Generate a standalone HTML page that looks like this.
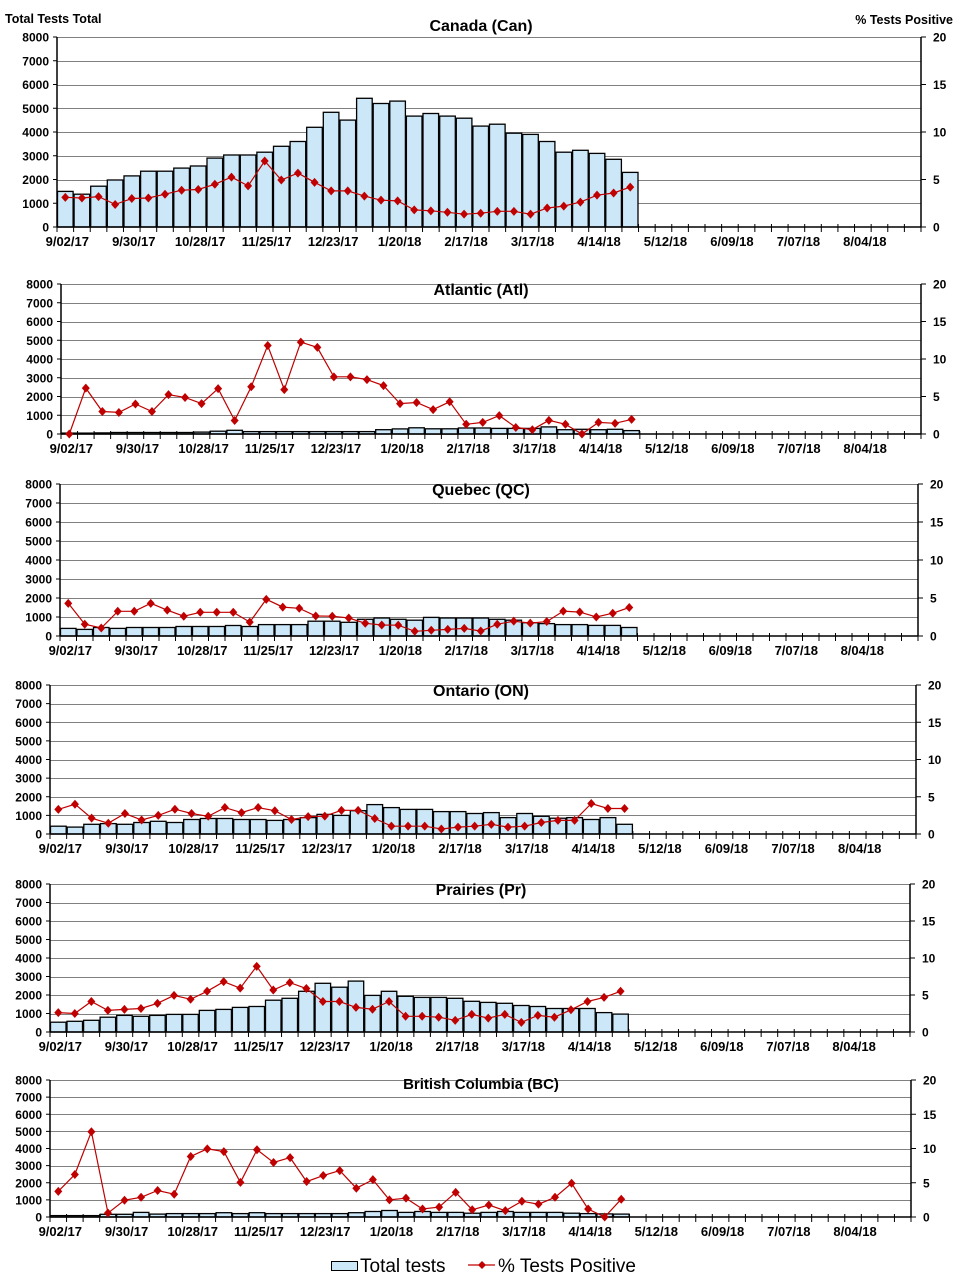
<!DOCTYPE html>
<html><head><meta charset="utf-8"><style>
html,body{margin:0;padding:0;background:#fff;}
svg{display:block;}
text{font-family:"Liberation Sans",Arial,sans-serif;fill:#000;}
.b{font-weight:bold;font-size:12px;}
.d{font-weight:bold;font-size:13px;}
.t{font-weight:bold;font-size:16px;text-anchor:middle;}
</style></head><body>
<svg id="s" width="962" height="1287" xmlns="http://www.w3.org/2000/svg">
<g id="geo"></g>
<text class="b" x="5" y="23" style="font-size:12.5px">Total Tests  Total</text>
<text class="b" x="953" y="24" text-anchor="end" style="font-size:12.5px">% Tests  Positive</text>
<g id="p0"><text class="t">Canada (Can)</text><text class="b">0</text><text class="b">1000</text><text class="b">2000</text><text class="b">3000</text><text class="b">4000</text><text class="b">5000</text><text class="b">6000</text><text class="b">7000</text><text class="b">8000</text><text class="b">0</text><text class="b">5</text><text class="b">10</text><text class="b">15</text><text class="b">20</text><text class="d">9/02/17</text><text class="d">9/30/17</text><text class="d">10/28/17</text><text class="d">11/25/17</text><text class="d">12/23/17</text><text class="d">1/20/18</text><text class="d">2/17/18</text><text class="d">3/17/18</text><text class="d">4/14/18</text><text class="d">5/12/18</text><text class="d">6/09/18</text><text class="d">7/07/18</text><text class="d">8/04/18</text></g>
<g id="p1"><text class="t">Atlantic (Atl)</text><text class="b">0</text><text class="b">1000</text><text class="b">2000</text><text class="b">3000</text><text class="b">4000</text><text class="b">5000</text><text class="b">6000</text><text class="b">7000</text><text class="b">8000</text><text class="b">0</text><text class="b">5</text><text class="b">10</text><text class="b">15</text><text class="b">20</text><text class="d">9/02/17</text><text class="d">9/30/17</text><text class="d">10/28/17</text><text class="d">11/25/17</text><text class="d">12/23/17</text><text class="d">1/20/18</text><text class="d">2/17/18</text><text class="d">3/17/18</text><text class="d">4/14/18</text><text class="d">5/12/18</text><text class="d">6/09/18</text><text class="d">7/07/18</text><text class="d">8/04/18</text></g>
<g id="p2"><text class="t">Quebec (QC)</text><text class="b">0</text><text class="b">1000</text><text class="b">2000</text><text class="b">3000</text><text class="b">4000</text><text class="b">5000</text><text class="b">6000</text><text class="b">7000</text><text class="b">8000</text><text class="b">0</text><text class="b">5</text><text class="b">10</text><text class="b">15</text><text class="b">20</text><text class="d">9/02/17</text><text class="d">9/30/17</text><text class="d">10/28/17</text><text class="d">11/25/17</text><text class="d">12/23/17</text><text class="d">1/20/18</text><text class="d">2/17/18</text><text class="d">3/17/18</text><text class="d">4/14/18</text><text class="d">5/12/18</text><text class="d">6/09/18</text><text class="d">7/07/18</text><text class="d">8/04/18</text></g>
<g id="p3"><text class="t">Ontario (ON)</text><text class="b">0</text><text class="b">1000</text><text class="b">2000</text><text class="b">3000</text><text class="b">4000</text><text class="b">5000</text><text class="b">6000</text><text class="b">7000</text><text class="b">8000</text><text class="b">0</text><text class="b">5</text><text class="b">10</text><text class="b">15</text><text class="b">20</text><text class="d">9/02/17</text><text class="d">9/30/17</text><text class="d">10/28/17</text><text class="d">11/25/17</text><text class="d">12/23/17</text><text class="d">1/20/18</text><text class="d">2/17/18</text><text class="d">3/17/18</text><text class="d">4/14/18</text><text class="d">5/12/18</text><text class="d">6/09/18</text><text class="d">7/07/18</text><text class="d">8/04/18</text></g>
<g id="p4"><text class="t">Prairies (Pr)</text><text class="b">0</text><text class="b">1000</text><text class="b">2000</text><text class="b">3000</text><text class="b">4000</text><text class="b">5000</text><text class="b">6000</text><text class="b">7000</text><text class="b">8000</text><text class="b">0</text><text class="b">5</text><text class="b">10</text><text class="b">15</text><text class="b">20</text><text class="d">9/02/17</text><text class="d">9/30/17</text><text class="d">10/28/17</text><text class="d">11/25/17</text><text class="d">12/23/17</text><text class="d">1/20/18</text><text class="d">2/17/18</text><text class="d">3/17/18</text><text class="d">4/14/18</text><text class="d">5/12/18</text><text class="d">6/09/18</text><text class="d">7/07/18</text><text class="d">8/04/18</text></g>
<g id="p5"><text class="t" style="font-size:15px">British Columbia (BC)</text><text class="b">0</text><text class="b">1000</text><text class="b">2000</text><text class="b">3000</text><text class="b">4000</text><text class="b">5000</text><text class="b">6000</text><text class="b">7000</text><text class="b">8000</text><text class="b">0</text><text class="b">5</text><text class="b">10</text><text class="b">15</text><text class="b">20</text><text class="d">9/02/17</text><text class="d">9/30/17</text><text class="d">10/28/17</text><text class="d">11/25/17</text><text class="d">12/23/17</text><text class="d">1/20/18</text><text class="d">2/17/18</text><text class="d">3/17/18</text><text class="d">4/14/18</text><text class="d">5/12/18</text><text class="d">6/09/18</text><text class="d">7/07/18</text><text class="d">8/04/18</text></g>
<rect x="331.5" y="1261.5" width="26" height="9" fill="#cce8f8" stroke="#000" stroke-width="1"/>
<text x="360" y="1272" style="font-size:19px">Total tests</text>
<line x1="468" y1="1265" x2="495" y2="1265" stroke="#c00000" stroke-width="1.2"/>
<path d="M482 1261 L486 1265 L482 1269 L478 1265Z" fill="#c00000"/>
<text x="498" y="1272" style="font-size:19px">% Tests Positive</text>
</svg>
<script>
var P=[
{L:57,R:921,T:37,B:227,ty:31,
b:[1500,1380,1720,1980,2150,2350,2350,2480,2570,2900,3030,3030,3150,3400,3600,4200,4830,4500,5420,5200,5300,4670,4780,4670,4580,4250,4330,3950,3900,3600,3150,3230,3100,2850,2300],
l:[1250,1220,1280,950,1200,1220,1380,1550,1580,1800,2100,1730,2780,1980,2270,1880,1520,1520,1300,1130,1100,720,680,620,540,580,660,660,540,800,880,1050,1340,1430,1680]},
{L:61,R:921,T:284,B:434,ty:295,
b:[50,50,60,80,80,80,80,80,100,150,200,130,130,130,130,130,130,130,130,230,270,330,280,280,320,320,300,300,300,380,230,250,230,250,180],
l:[0,2450,1200,1150,1600,1200,2100,1950,1620,2420,720,2520,4720,2370,4900,4620,3050,3050,2900,2580,1620,1680,1300,1720,520,620,980,350,230,730,520,0,620,570,780]},
{L:60,R:918,T:484,B:636,ty:495,
b:[400,350,450,400,450,450,450,500,500,500,550,500,600,600,600,780,780,720,880,950,880,830,980,950,950,950,880,830,700,650,600,600,560,560,450],
l:[1720,620,420,1300,1300,1720,1360,1040,1250,1250,1250,730,1930,1520,1460,1050,1040,950,670,580,570,250,300,350,400,260,620,780,680,760,1310,1260,1000,1200,1500]},
{L:50,R:916,T:685,B:834,ty:696,
b:[420,370,520,560,520,620,680,620,780,830,830,780,780,730,780,880,1050,1000,1250,1580,1420,1320,1320,1200,1200,1100,1150,880,1100,950,850,880,780,880,520],
l:[1320,1600,850,580,1100,750,1000,1330,1100,950,1420,1150,1420,1250,780,930,960,1270,1270,830,420,420,420,270,370,420,520,370,420,620,730,730,1640,1370,1370]},
{L:50,R:910,T:884,B:1032,ty:895,
b:[530,580,630,800,900,850,900,950,950,1170,1220,1330,1380,1720,1820,2200,2630,2420,2750,1980,2200,1930,1870,1870,1820,1660,1600,1550,1430,1380,1270,1270,1270,1050,970],
l:[1050,1000,1650,1170,1220,1270,1550,1980,1770,2200,2720,2370,3550,2270,2670,2350,1650,1650,1330,1230,1650,850,850,800,630,950,750,950,520,900,800,1200,1650,1870,2200]},
{L:50,R:911,T:1080,B:1217,ty:1089,
b:[80,80,80,160,160,270,170,200,200,200,250,200,250,200,200,200,200,200,250,320,380,270,320,270,270,220,270,320,270,270,270,220,200,180,170],
l:[1500,2480,4980,230,980,1150,1550,1330,3530,3980,3820,2020,3930,3180,3470,2070,2420,2710,1680,2180,1000,1100,470,580,1440,420,700,370,920,750,1150,1970,470,0,1040]}
];
var g=document.getElementById('geo'),h='';
P.forEach(function(p,pi){
 var w=(p.R-p.L)/52,ys=function(v){return p.B-(p.B-p.T)*v/8000;};
 for(var k=1;k<=8;k++){var y=Math.round(ys(k*1000))+0.5;h+='<line x1="'+p.L+'" y1="'+y+'" x2="'+p.R+'" y2="'+y+'" stroke="#808080" stroke-width="1"/>';}
 p.b.forEach(function(v,i){var x=p.L+w*i,y=ys(v);h+='<rect x="'+(x+0.5).toFixed(1)+'" y="'+y.toFixed(1)+'" width="'+(w-1).toFixed(1)+'" height="'+(p.B-y).toFixed(1)+'" fill="#cce8f8" stroke="#000" stroke-width="1.3"/>';});
 h+='<line x1="'+p.L+'" y1="'+p.T+'" x2="'+p.L+'" y2="'+p.B+'" stroke="#000" stroke-width="1.5"/>';
 h+='<line x1="'+p.R+'" y1="'+p.T+'" x2="'+p.R+'" y2="'+p.B+'" stroke="#000" stroke-width="1.5"/>';
 h+='<line x1="'+p.L+'" y1="'+p.B+'" x2="'+p.R+'" y2="'+p.B+'" stroke="#000" stroke-width="1.5"/>';
 for(var k=0;k<=8;k++){var y=ys(k*1000);h+='<line x1="'+(p.L-4)+'" y1="'+y+'" x2="'+p.L+'" y2="'+y+'" stroke="#000"/>';}
 for(var k=0;k<=4;k++){var y=ys(k*2000);h+='<line x1="'+p.R+'" y1="'+y+'" x2="'+(p.R+5)+'" y2="'+y+'" stroke="#000"/>';}
 for(var i=0;i<=52;i++){var x=p.L+w*i;h+='<line x1="'+x+'" y1="'+(p.B-3)+'" x2="'+x+'" y2="'+(p.B+5)+'" stroke="#000"/>';}
 var pts=p.l.map(function(v,i){return (p.L+w*(i+0.5)).toFixed(1)+','+ys(v).toFixed(1);});
 h+='<polyline points="'+pts.join(' ')+'" fill="none" stroke="#c00000" stroke-width="1.2"/>';
 p.l.forEach(function(v,i){var x=p.L+w*(i+0.5),y=ys(v);h+='<path d="M'+x+' '+(y-4.5)+' L'+(x+4)+' '+y+' L'+x+' '+(y+4.5)+' L'+(x-4)+' '+y+'Z" fill="#c00000"/>';});
 var t=document.getElementById('p'+pi).children;
 t[0].setAttribute('x',481);t[0].setAttribute('y',p.ty);
 for(var k=0;k<9;k++){t[1+k].setAttribute('x',p.L-8);t[1+k].setAttribute('y',ys(k*1000)+4.5);t[1+k].setAttribute('text-anchor','end');}
 for(var k=0;k<5;k++){t[10+k].setAttribute('x',p.R+12);t[10+k].setAttribute('y',ys(k*2000)+4.5);}
 for(var k=0;k<13;k++){t[15+k].setAttribute('x',p.L+w*(4*k+0.5)+2);t[15+k].setAttribute('y',p.B+19);t[15+k].setAttribute('text-anchor','middle');}
});
g.innerHTML=h;
</script>
</body></html>
